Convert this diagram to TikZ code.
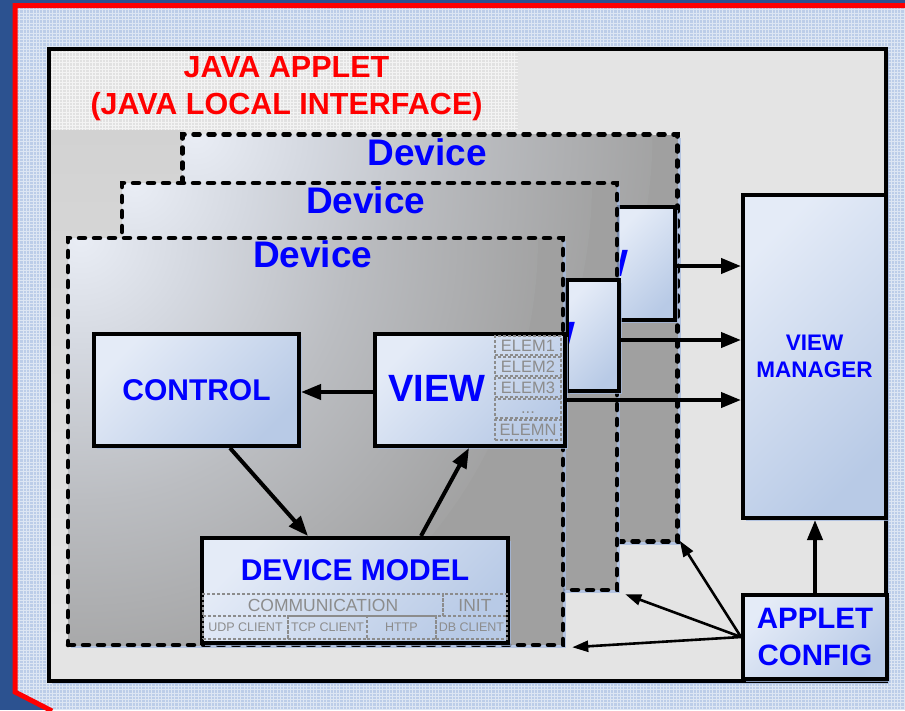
\documentclass[tikz,border=0pt]{standalone}
\usepackage{fontspec}
\setmainfont{Liberation Sans}
\usetikzlibrary{arrows.meta,shadows}

\definecolor{deskblue}{HTML}{2C5290}
\definecolor{gridblue}{HTML}{BCCDE8}
\definecolor{alertred}{HTML}{FF0000}
\definecolor{panelgray}{HTML}{E4E4E4}
\definecolor{titlegray}{HTML}{E1E1E1}
\definecolor{shadegray}{HTML}{D2D2D2}
\definecolor{devlight}{HTML}{E9EDF5}
\definecolor{devsoft}{HTML}{D4D8E0}
\definecolor{devmid}{HTML}{BBBDC1}
\definecolor{devgray}{HTML}{A0A0A0}
\definecolor{boxlight}{HTML}{E4EBF7}
\definecolor{boxdark}{HTML}{B8CAE6}
\definecolor{labelblue}{HTML}{0000FF}
\definecolor{subgray}{HTML}{8C8C8C}
\definecolor{haloblue}{HTML}{A3B9DF}

% soft glow in the upper left corner of each device
\pgfdeclareradialshading{devglow}{\pgfpoint{0bp}{0bp}}{%
  color(0bp)=(devlight); color(6bp)=(devsoft); color(14bp)=(devmid);
  color(25bp)=(devgray); color(50bp)=(devgray)}

\tikzset{
  halo/.style={drop shadow={shadow xshift=3pt, shadow yshift=-3pt, fill=haloblue, opacity=.75}},
  bluebox/.style={draw=black, line width=4pt, top color=boxlight, bottom color=boxdark,
    shading angle=45, inner sep=0pt, halo},
  boxfont/.style 2 args={text=labelblue, align=center, inner sep=0pt,
    font=\bfseries\fontsize{#1}{#2}\selectfont},
  devframe/.style={draw=black, line width=4.5pt, dash pattern=on 6pt off 9pt, line cap=round,
    fill=devgray, inner sep=0pt, minimum width=495pt, minimum height=407pt,
    path picture={\shade[shading=devglow]
      (path picture bounding box.north west) circle (470pt);}, halo},
  devlabel/.style={text=labelblue, inner sep=0pt, font=\bfseries\fontsize{37}{44}\selectfont},
  viewtext/.style={text=labelblue, inner sep=0pt, font=\bfseries\fontsize{38}{46}\selectfont},
  subbox/.style={draw=subgray, line width=1.8pt, dash pattern=on 3pt off 2pt, text=subgray,
    inner sep=0pt},
  subbig/.style={font=\fontsize{17.5}{20}\selectfont},
  subsmall/.style={font=\fontsize{12.5}{14}\selectfont},
  elemrow/.style={subbox, minimum width=66pt, minimum height=19pt, font=\fontsize{16.5}{18}\selectfont},
  bigarrow/.style={line width=4pt, -{Triangle[length=20pt,width=15pt]}},
  thinarrow/.style={line width=2.6pt, -{Triangle[length=16pt,width=11pt]}},
}

\begin{document}
\begin{tikzpicture}[x=1pt,y=-1pt]
\useasboundingbox (0,0) rectangle (905,710);

% desk and gridded board with red rim
\fill[deskblue] (0,0) rectangle (905,710);
\begin{scope}
  \clip (13,3) -- (905,3) -- (905,710) -- (50,710) -- (15,692) -- cycle;
  \fill[gridblue] (0,0) rectangle (905,710);
  \draw[white, line width=.9pt, opacity=.5] (0,0) grid[step=3.3pt] (905,710);
\end{scope}
\draw[alertred, line width=5pt] (905,5.5) -- (15,5.5) -- (15,692) -- (52,711);

% applet panel
\node[draw=black, line width=4pt, fill=panelgray, minimum width=837pt, minimum height=632pt,
  inner sep=0pt, halo] (panel) at (467.5,365) {};

% title band
\begin{scope}
  \clip (51,51) rectangle (518,130);
  \fill[titlegray] (51,51) rectangle (518,130);
  \draw[white, line width=.9pt, opacity=.6] (51,51) grid[step=3.3pt] (518,130);
\end{scope}
\node[text=alertred, align=center, inner sep=0pt,
  font=\bfseries\fontsize{30.5}{37}\selectfont] (title) at (286.5,89)
  {JAVA APPLET\\(JAVA LOCAL INTERFACE)};

% shaded area behind the stacked devices
\shade[top color=shadegray, bottom color=panelgray] (51,130) rectangle (184,646);

% back device: only the right edge of its view shows
\node[devframe] (dev3) at (430,338) {};
\node[devlabel] (dev3label) at ([xshift=247pt,yshift=-20pt]dev3.north west) {Device};
\node[bluebox, minimum width=58pt, minimum height=113pt,
  path picture={\node[viewtext] (view3label) at ([xshift=-95.5pt]path picture bounding box.east) {VIEW};}]
  (view3) at (646,263.5) {};

% middle device
\node[devframe] (dev2) at (369.5,386.5) {};
\node[devlabel] (dev2label) at ([xshift=246pt,yshift=-20pt]dev2.north west) {Device};
\node[bluebox, minimum width=52pt, minimum height=111pt,
  path picture={\node[viewtext] (view2label) at ([xshift=-92.5pt]path picture bounding box.east) {VIEW};}]
  (view2) at (593,335.5) {};

% front device
\node[devframe] (dev1) at (315.5,441.5) {};
\node[devlabel] (dev1label) at ([xshift=247pt,yshift=-19pt]dev1.north west) {Device};

\node[bluebox, minimum width=205pt, minimum height=112pt, boxfont={30}{36}] (control) at (196.5,390) {CONTROL};

\node[bluebox, minimum width=190pt, minimum height=112pt] (view1) at (470,390) {};
\node[viewtext] (view1label) at (437,388) {VIEW};
\node[elemrow] (elem1) at (528,345.5) {ELEM1};
\node[elemrow] (elem2) at (528,366.5) {ELEM2};
\node[elemrow] (elem3) at (528,387.5) {ELEM3};
\node[elemrow, text height=9pt] (elemdots) at (528,408.5) {...};
\node[elemrow, minimum height=20pt] (elemn) at (528,430) {ELEMN};

\node[bluebox, minimum width=306pt, minimum height=105pt] (model) at (355,590.5) {};
\node[boxfont={30}{36}] (modellabel) at (355,570) {DEVICE MODEL};
\node[subbox, subbig, minimum width=240pt, minimum height=22pt] (comm) at (323,605) {COMMUNICATION};
\node[subbox, subbig, minimum width=64pt, minimum height=22pt] (init) at (475,605) {INIT};
\node[subbox, subsmall, minimum width=85pt, minimum height=23pt] (udp) at (245.5,627.5) {UDP CLIENT};
\node[subbox, subsmall, minimum width=79pt, minimum height=23pt] (tcp) at (327.5,627.5) {TCP CLIENT};
\node[subbox, subsmall, minimum width=69pt, minimum height=23pt] (http) at (401.5,627.5) {HTTP};
\node[subbox, subsmall, minimum width=71pt, minimum height=23pt] (db) at (471.5,627.5) {DB CLIENT};

% managers on the right
\node[bluebox, minimum width=143pt, minimum height=323pt, boxfont={22.5}{27}] (vm) at (814.5,356.5) {VIEW\\MANAGER};
\node[bluebox, minimum width=144pt, minimum height=84pt, boxfont={29.5}{37}] (ac) at (815,637) {APPLET\\CONFIG};

% connectors inside the front device
\draw[bigarrow] ([yshift=-2pt]view1.west) -- ([yshift=-2pt]view1.west -| control.east);
\draw[bigarrow] ([xshift=33.5pt]control.south) -- ([xshift=-47pt]model.north);
\draw[bigarrow] ([xshift=66pt]model.north) -- ([xshift=-1pt]view1.south);

% views to the view manager
\draw[bigarrow] ([yshift=-2.5pt]view3.east) -- ([yshift=-2.5pt]view3.east -| vm.west);
\draw[bigarrow] ([yshift=-4.5pt]view2.east) -- ([yshift=-4.5pt]view2.east -| vm.west);
\draw[bigarrow] ([yshift=-10pt]view1.east) -- ([yshift=-10pt]view1.east -| vm.west);

% applet configuration
\draw[bigarrow] (ac.north) -- (ac.north |- vm.south);
\draw[thinarrow] (ac.west) -- ([yshift=3pt]dev3.south east);
\draw[thinarrow] (ac.west) -- ([xshift=6pt,yshift=-2pt]dev2.south east);
\draw[thinarrow] (ac.west) -- ([xshift=7pt]dev1.south east);
\end{tikzpicture}
\end{document}
